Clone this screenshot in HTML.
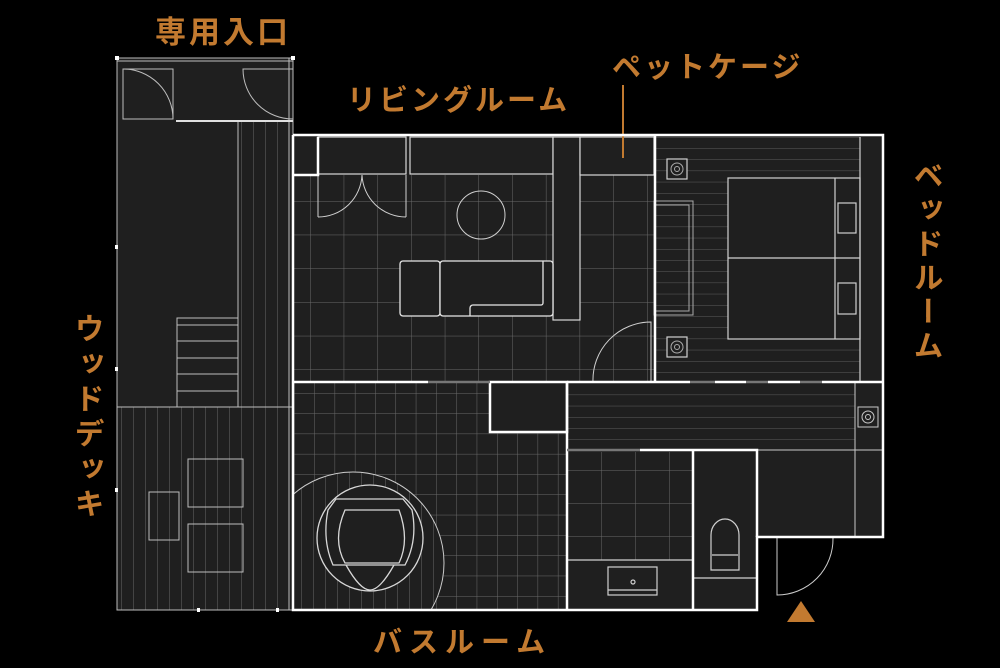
<!DOCTYPE html>
<html><head><meta charset="utf-8"><style>
html,body{margin:0;padding:0;background:#000;width:1000px;height:668px;overflow:hidden}
svg{display:block}
.lb{font-family:"Liberation Sans","Noto Sans CJK JP",sans-serif;font-weight:bold;fill:#c27a30}
</style></head><body>
<svg width="1000" height="668" viewBox="0 0 1000 668" xmlns="http://www.w3.org/2000/svg">
<defs>
<pattern id="gridL" x="310" y="201" width="33.7" height="33.7" patternUnits="userSpaceOnUse">
<path d="M0 0V33.7M0 0H33.7" stroke="#6a6a6a" stroke-width="1" fill="none"/></pattern>
<pattern id="gridB" x="294" y="393" width="20.3" height="20.3" patternUnits="userSpaceOnUse">
<path d="M0 0V20.3M0 0H20.3" stroke="#6a6a6a" stroke-width="1" fill="none"/></pattern>
<pattern id="hz" x="0" y="137" width="10" height="11.2" patternUnits="userSpaceOnUse">
<path d="M0 0H10" stroke="#5e5e5e" stroke-width="1"/></pattern>
<pattern id="vt" x="121" y="0" width="12" height="10" patternUnits="userSpaceOnUse">
<path d="M0 0V10" stroke="#6a6a6a" stroke-width="1"/></pattern>
<pattern id="gridW" x="567" y="470" width="34" height="33" patternUnits="userSpaceOnUse">
<path d="M0 0V33M0 0H34" stroke="#6a6a6a" stroke-width="1" fill="none"/></pattern>
<clipPath id="bathc"><rect x="293" y="382" width="274" height="228"/></clipPath>
</defs>

<g fill="#1f1f1f">
<rect x="117" y="58" width="176" height="552"/>
<rect x="293" y="135" width="590" height="247"/>
<rect x="293" y="382" width="274" height="228"/>
<rect x="567" y="382" width="316" height="155"/>
<rect x="567" y="450" width="190" height="160"/>
</g>

<rect x="238" y="122" width="55" height="285" fill="url(#vt)"/>
<rect x="117" y="407" width="176" height="203" fill="url(#vt)"/>
<g stroke="#bdbdbd" stroke-width="1" fill="none">
<rect x="117" y="58" width="176" height="552"/>
<line x1="117" y1="61" x2="293" y2="61"/>
<line x1="289" y1="58" x2="289" y2="610"/>
<line x1="238" y1="122" x2="238" y2="407"/>
<line x1="117" y1="407" x2="293" y2="407"/>
<rect x="177" y="318" width="61" height="89"/>
<path d="M177 325H238M177 341H238M177 358H238M177 374H238M177 391H238"/>
<rect x="123" y="69" width="50" height="50"/>
<path d="M123 69A50 50 0 0 1 173 119"/>
<path d="M293 69H243A50 50 0 0 0 293 119"/>
<rect x="188" y="459" width="55" height="48"/>
<rect x="188" y="524" width="55" height="48"/>
<rect x="149" y="492" width="30" height="48"/>
</g>
<line x1="176" y1="121" x2="293" y2="121" stroke="#e0e0e0" stroke-width="2"/>
<g fill="#fff"><rect x="115" y="56" width="4" height="4"/><rect x="291" y="56" width="4" height="4"/><rect x="115" y="245" width="3" height="4"/><rect x="115" y="367" width="3" height="4"/><rect x="115" y="488" width="3" height="4"/><rect x="197" y="608" width="3" height="4"/><rect x="276" y="608" width="3" height="4"/></g>

<rect x="294" y="175" width="361" height="206" fill="url(#gridL)"/>
<g stroke="#d8d8d8" stroke-width="1.2" fill="#1f1f1f">
<rect x="318" y="137" width="88" height="37"/>
<rect x="410" y="137" width="143" height="37"/>
<rect x="553" y="137" width="27" height="183"/>
<rect x="580" y="137" width="74" height="38"/>
</g>
<g stroke="#d0d0d0" stroke-width="1" fill="none">
<path d="M318 217V175M318 217A44 44 0 0 0 362 175M406 217V175M406 217A44 44 0 0 1 362 175"/>
<circle cx="481" cy="215" r="24"/>
<path d="M651 382V322A58 58 0 0 0 593 382"/>
</g>
<g stroke="#e6e6e6" stroke-width="1.3" fill="#1f1f1f">
<rect x="400" y="261" width="40" height="55" rx="3"/>
<path d="M443 261h107a3 3 0 0 1 3 3v49a3 3 0 0 1-3 3H443a3 3 0 0 1-3-3V264a3 3 0 0 1 3-3z"/>
<path d="M543 261V303a2 2 0 0 1-2 2H473a3 3 0 0 0-3 3v8" fill="none"/>
</g>
<line x1="623" y1="85" x2="623" y2="158" stroke="#c27a30" stroke-width="2"/>

<rect x="655" y="137" width="205" height="244" fill="url(#hz)"/>
<g stroke="#d0d0d0" stroke-width="1.2" fill="#1f1f1f">
<rect x="728" y="178" width="132" height="161"/>
<line x1="728" y1="258" x2="860" y2="258"/>
<line x1="835" y1="178" x2="835" y2="339"/>
<rect x="838" y="203" width="18" height="30" fill="none"/>
<rect x="838" y="283" width="18" height="31" fill="none"/>
<rect x="667" y="159" width="20" height="20"/>
<rect x="667" y="337" width="20" height="20"/>
<line x1="860" y1="137" x2="860" y2="382"/>
</g>
<g stroke="#aaa" stroke-width="1" fill="none">
<rect x="654" y="201" width="39" height="114"/>
<rect x="654" y="205" width="35" height="106"/>
<circle cx="677" cy="169" r="6"/><circle cx="677" cy="169" r="2.5"/>
<circle cx="677" cy="347" r="6"/><circle cx="677" cy="347" r="2.5"/>
</g>

<rect x="568" y="384" width="287" height="66" fill="url(#hz)"/>
<g stroke="#c8c8c8" stroke-width="1" fill="none">
<line x1="855" y1="382" x2="855" y2="537"/>
<line x1="567" y1="450" x2="883" y2="450"/>
<rect x="858" y="407" width="20" height="20"/><circle cx="868" cy="417" r="6"/><circle cx="868" cy="417" r="2.5"/>
</g>

<rect x="294" y="383" width="272" height="226" fill="url(#gridB)"/>
<g clip-path="url(#bathc)">
<circle cx="353" cy="563" r="91" fill="#1f1f1f"/>
<clipPath id="arc"><circle cx="353" cy="563" r="91"/></clipPath>
<rect x="293" y="470" width="160" height="140" fill="url(#vt)" clip-path="url(#arc)"/>
<circle cx="353" cy="563" r="91" fill="none" stroke="#ccc"/>
</g>
<g stroke="#d8d8d8" stroke-width="1.3" fill="#1f1f1f">
<circle cx="370" cy="538" r="53"/>
<path d="M336 499H403L412 510Q418 540 405 565H333Q322 540 328 510Z"/>
<path d="M345 510H399Q410 540 399 563H345Q332 540 345 510Z" fill="none"/>
<path d="M346 565Q360 590 370 590Q380 590 394 565" fill="none"/>
</g>
<rect x="490" y="382" width="77" height="50" fill="#1f1f1f" stroke="#fff" stroke-width="2.5"/>

<rect x="567" y="452" width="126" height="108" fill="url(#gridW)"/>
<g stroke="#d0d0d0" stroke-width="1.2" fill="none">
<line x1="567" y1="560" x2="693" y2="560"/>
<rect x="608" y="567" width="49" height="28"/>
<line x1="608" y1="590" x2="657" y2="590"/>
<circle cx="633" cy="582" r="2"/>
<line x1="693" y1="578" x2="757" y2="578"/>
<path d="M711 570V535a14 16 0 0 1 28 0V570Z"/>
<path d="M712 555H738"/>
</g>

<g stroke="#ccc" stroke-width="1" fill="none">
<path d="M777 538V595A56 56 0 0 0 833 538"/>
</g>
<path d="M801 601L815 622H787Z" fill="#c27a30"/>

<g stroke="#fff" stroke-width="2.5" fill="none">
<path d="M293 135H883V382M883 382V537H757V610H567"/>
<path d="M293 135V610H567"/>
<path d="M293 175H318V137"/>
<path d="M293 382H428"/>
<path d="M567 382H655M655 382H690M715 382H746M768 382H800M822 382H883"/>
<path d="M655 135V382"/>
<path d="M567 382V610"/>
<path d="M640 450H757V537"/>
<path d="M693 450V610"/>
</g>
<g stroke="#777" stroke-width="2.5"><path d="M567 450H640M428 382H490M690 382H715M746 382H768M800 382H822"/></g>

<text class="lb" x="155" y="43" font-size="31" letter-spacing="3">専用入口</text>
<text class="lb" x="347" y="110" font-size="29" letter-spacing="3">リビングルーム</text>
<text class="lb" x="612" y="77" font-size="29" letter-spacing="3">ペットケージ</text>
<text class="lb" x="373" y="652" font-size="29" letter-spacing="7">バスルーム</text>
<text class="lb" x="925" y="160" font-size="30" style="writing-mode:vertical-rl;letter-spacing:4px">ベッドルーム</text>
<text class="lb" x="86" y="313" font-size="30" style="writing-mode:vertical-rl;letter-spacing:5px">ウッドデッキ</text>
</svg>
</body></html>
